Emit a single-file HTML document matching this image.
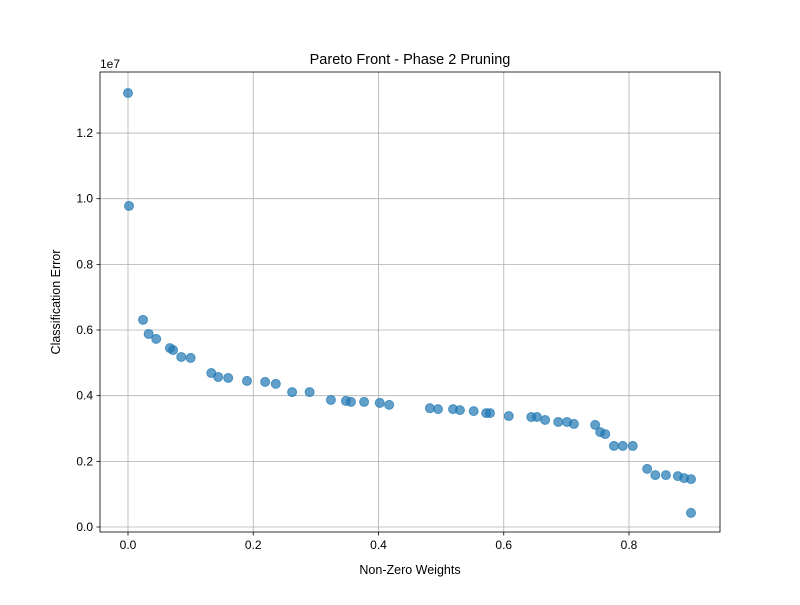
<!DOCTYPE html>
<html><head><meta charset="utf-8"><style>body{margin:0;background:#fff}svg{font-family:"Liberation Sans","DejaVu Sans",sans-serif}</style></head>
<body>
<svg id="c" width="800" height="600" viewBox="0 0 800 600"></svg>
<script>
const xVals=[0,0.0016,0.024,0.033,0.045,0.067,0.072,0.085,0.10,0.133,0.144,0.16,0.19,0.219,0.236,0.262,0.29,0.324,0.348,0.356,0.377,0.402,0.417,0.482,0.495,0.519,0.53,0.552,0.572,0.578,0.608,0.644,0.653,0.666,0.687,0.701,0.712,0.746,0.754,0.762,0.776,0.79,0.806,0.829,0.842,0.859,0.878,0.888,0.899,0.899];
const yVals=[13.22,9.78,6.31,5.88,5.73,5.45,5.39,5.18,5.15,4.69,4.57,4.54,4.45,4.42,4.36,4.11,4.11,3.87,3.84,3.81,3.81,3.78,3.72,3.62,3.59,3.59,3.56,3.53,3.47,3.47,3.38,3.35,3.35,3.26,3.20,3.20,3.14,3.11,2.89,2.83,2.47,2.47,2.47,1.77,1.58,1.58,1.55,1.49,1.46,0.43];
const xTicks=[0,0.2,0.4,0.6,0.8];
const xTickLabels=["0.0","0.2","0.4","0.6","0.8"];
const yTicks=[0,2,4,6,8,10,12];
const yTickLabels=["0.0","0.2","0.4","0.6","0.8","1.0","1.2"];
const L=100,R=720,T=72,B=532;
const sx=v=>128+v*626.25, sy=v=>527-v*32.83;
const svg=document.getElementById('c');
const NS='http://www.w3.org/2000/svg';
function mk(t,a,p){const e=document.createElementNS(NS,t);for(const k in a)e.setAttribute(k,a[k]);(p||svg).appendChild(e);return e;}
const grid=mk('g',{});


xTicks.forEach((v,i)=>{const x=sx(v);
mk('line',{x1:x,x2:x,y1:T,y2:B,stroke:'#b0b0b0','stroke-width':0.8},grid);
mk('line',{x1:x,x2:x,y1:B,y2:B+3.5,stroke:'#000','stroke-width':0.8});
const t=mk('text',{x:x,y:B+17,'text-anchor':'middle','font-size':12});t.textContent=xTickLabels[i];

});
yTicks.forEach((v,i)=>{const y=sy(v);
mk('line',{x1:L,x2:R,y1:y,y2:y,stroke:'#b0b0b0','stroke-width':0.8},grid);
mk('line',{x1:L-3.5,x2:L,y1:y,y2:y,stroke:'#000','stroke-width':0.8});
const t=mk('text',{x:L-7,y:y+4,'text-anchor':'end','font-size':12});t.textContent=yTickLabels[i];

});
const pts=mk('g',{});


xVals.forEach((v,i)=>{const c=mk('circle',{cx:sx(v),cy:sy(yVals[i]),r:4.5,fill:'#1f77b4','fill-opacity':0.7,stroke:'#1f77b4','stroke-opacity':0.7,'stroke-width':1},pts);

});
const fr=mk('rect',{x:L,y:T,width:R-L,height:B-T,fill:'none',stroke:'#000','stroke-width':0.8});


function txt(s,a,n){const t=mk('text',a);t.textContent=s;}
txt('1e7',{x:100,y:68,'font-size':12},'y-offset-label');
txt('Pareto Front - Phase 2 Pruning',{x:410,y:64,'text-anchor':'middle','font-size':14.5},'chart-title');
txt('Non-Zero Weights',{x:410,y:574,'text-anchor':'middle','font-size':12.5},'x-axis-title');
txt('Classification Error',{x:60,y:302,'text-anchor':'middle','font-size':12.5,transform:'rotate(-90 60 302)'},'y-axis-title');
</script>
</body></html>
